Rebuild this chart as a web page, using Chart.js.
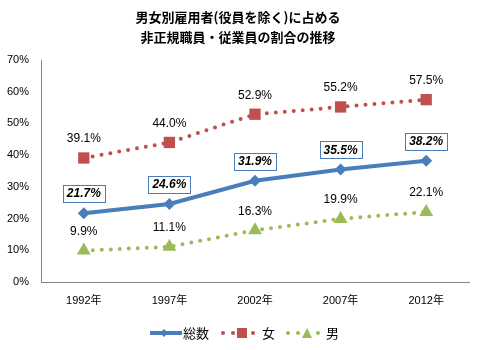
<!DOCTYPE html>
<html>
<head>
<meta charset="utf-8">
<script src="https://cdn.jsdelivr.net/npm/chart.js@4/dist/chart.umd.min.js"></script>
<style>
  html, body { margin: 0; padding: 0; background: #fff; }
  #wrap { width: 478px; height: 350px; }
</style>
</head>
<body>
<div id="wrap"><canvas id="chart" width="478" height="350"></canvas></div>
<script>
const years = ['1992年', '1997年', '2002年', '2007年', '2012年'];
const totalValues = [21.7, 24.6, 31.9, 35.5, 38.2];
const femaleValues = [39.1, 44.0, 52.9, 55.2, 57.5];
const maleValues = [9.9, 11.1, 16.3, 19.9, 22.1];
const seriesNames = ['総数', '女', '男'];
const titleLines = ['男女別雇用者(役員を除く)に占める', '非正規職員・従業員の割合の推移'];

const BLUE = '#4A7EBB';
const RED = '#C0504D';
const GREEN = '#9BBB59';
const LATIN = '"Liberation Sans", "Noto Sans CJK JP", sans-serif';
const CJK = '"Noto Sans CJK JP", sans-serif';

// labels above points, title and legend are drawn by hand
const decorPlugin = {
  id: 'decor',
  afterDatasetsDraw(chart) {
    const {ctx} = chart;
    ctx.save();
    ctx.textAlign = 'center';
    ctx.textBaseline = 'middle';
    chart.data.datasets.forEach((ds, i) => {
      const meta = chart.getDatasetMeta(i);
      meta.data.forEach((pt, j) => {
        const txt = ds.data[j].toFixed(1) + '%';
        const y = pt.y - 20;
        if (i === 0) {
          ctx.font = 'italic bold 12px ' + LATIN;
          const w = ctx.measureText(txt).width + 8;
          ctx.fillStyle = '#fff';
          ctx.fillRect(pt.x - w / 2, y - 8, w, 17);
          ctx.strokeStyle = BLUE;
          ctx.lineWidth = 1;
          ctx.strokeRect(Math.round(pt.x - w / 2) + 0.5, Math.round(y - 8) + 0.5, Math.round(w), 17);
        } else {
          ctx.font = '12px ' + LATIN;
        }
        ctx.fillStyle = '#000';
        ctx.fillText(txt, pt.x, y + 1);
      });
    });
    ctx.restore();
  },
  afterDraw(chart) {
    const {ctx} = chart;
    ctx.save();
    ctx.textAlign = 'center';
    ctx.textBaseline = 'middle';
    ctx.fillStyle = '#000';
    ctx.font = 'bold 13px ' + CJK;
    ctx.fillText(titleLines[0], 238, 17);
    ctx.fillText(titleLines[1], 238, 37);

    // legend
    const ly = 333;
    ctx.lineCap = 'butt';
    ctx.strokeStyle = BLUE;
    ctx.lineWidth = 4;
    ctx.beginPath(); ctx.moveTo(150, ly); ctx.lineTo(182, ly); ctx.stroke();
    ctx.fillStyle = BLUE;
    ctx.beginPath(); ctx.moveTo(160, ly); ctx.lineTo(164, ly - 4); ctx.lineTo(168, ly); ctx.lineTo(164, ly + 4); ctx.fill();

    ctx.fillStyle = RED;
    [223, 233, 253].forEach(x => { ctx.beginPath(); ctx.arc(x, ly, 2, 0, Math.PI * 2); ctx.fill(); });
    ctx.fillRect(237, ly - 5, 10, 10);

    ctx.fillStyle = GREEN;
    [288, 298, 318].forEach(x => { ctx.beginPath(); ctx.arc(x, ly, 2, 0, Math.PI * 2); ctx.fill(); });
    ctx.beginPath(); ctx.moveTo(302, ly + 5); ctx.lineTo(307, ly - 5); ctx.lineTo(312, ly + 5); ctx.fill();

    ctx.fillStyle = '#000';
    ctx.font = '13px ' + CJK;
    ctx.textAlign = 'left';
    ctx.fillText(seriesNames[0], 183, ly);
    ctx.fillText(seriesNames[1], 262, ly);
    ctx.fillText(seriesNames[2], 326, ly);
    ctx.restore();
  }
};

new Chart(document.getElementById('chart'), {
  type: 'line',
  plugins: [decorPlugin],
  data: {
    labels: years,
    datasets: [
      {
        label: seriesNames[0],
        data: totalValues,
        borderColor: BLUE,
        backgroundColor: BLUE,
        borderWidth: 4,
        pointStyle: 'rectRot',
        pointRadius: 6,
        pointBorderWidth: 0,
        tension: 0
      },
      {
        label: seriesNames[1],
        data: femaleValues,
        borderColor: RED,
        backgroundColor: RED,
        borderWidth: 4,
        borderDash: [0, 9],
        borderCapStyle: 'round',
        pointStyle: 'rect',
        pointRadius: 8,
        pointBorderWidth: 0
      },
      {
        label: seriesNames[2],
        data: maleValues,
        borderColor: GREEN,
        backgroundColor: GREEN,
        borderWidth: 4,
        borderDash: [0, 9],
        borderCapStyle: 'round',
        pointStyle: 'triangle',
        pointRadius: 8,
        pointBorderWidth: 0
      }
    ]
  },
  options: {
    responsive: false,
    animation: false,
    layout: { padding: { top: 60, right: 9, left: 0, bottom: 0 } },
    plugins: {
      legend: { display: false },
      title: { display: false },
      tooltip: { enabled: false }
    },
    scales: {
      x: {
        offset: true,
        grid: { display: false, drawTicks: false, offset: true },
        border: { display: true, color: '#868686', width: 1 },
        ticks: { color: '#000', font: { size: 11, family: LATIN }, padding: 12, maxRotation: 0 },
        afterFit(scale) { scale.height = 68; }
      },
      y: {
        min: 0,
        max: 70,
        grid: { display: false, drawTicks: false },
        border: { display: true, color: '#868686', width: 1 },
        ticks: {
          stepSize: 10,
          color: '#000',
          font: { size: 11, family: LATIN },
          padding: 12,
          callback: v => v + '%'
        },
        afterFit(scale) { scale.width = 41; }
      }
    }
  }
});
</script>
</body>
</html>
